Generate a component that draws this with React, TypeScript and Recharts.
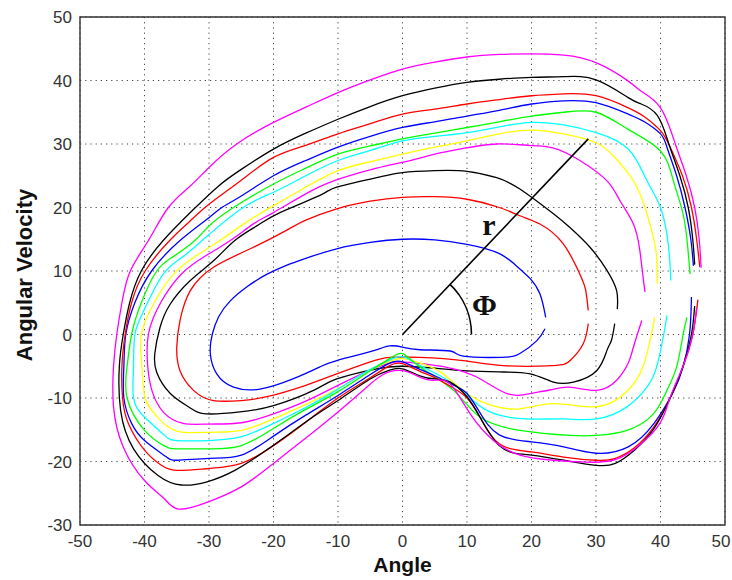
import { LineChart, Line, XAxis, YAxis, CartesianGrid, ReferenceArea, ReferenceDot, Label } from 'recharts';

type Pt = [number, number];

const xTicks = [-50, -40, -30, -20, -10, 0, 10, 20, 30, 40, 50];
const yTicks = [-30, -20, -10, 0, 10, 20, 30, 40, 50];

// contours, inner to outer; each runs from the upper-right end, over the top,
// round the left side and along the bottom to the lower-right end
const blueInner: Pt[] = [
  [22.2, 2.7], [21.3, 6.4], [19.8, 8.8], [18.2, 10.3], [15.1, 12.7], [10, 14.2], [5, 14.9], [0, 15],
  [-5, 14.5], [-10.2, 13.5], [-15, 12], [-18, 10.9], [-21, 9.5], [-24, 7.6], [-26.7, 5.3], [-28.5, 2.8],
  [-29.5, 0], [-29.8, -3], [-28.8, -6.2], [-26.2, -8.3], [-22.1, -8.6], [-17, -7], [-12.8, -5.1],
  [-10.2, -4.1], [-5, -2.7], [-2, -1.8], [0, -2], [2.7, -2.4], [7.4, -2.6], [9.4, -3.4], [15.3, -3.6],
  [18.2, -3], [20.8, -1], [22.1, 0.9],
];

const redInner: Pt[] = [
  [28.8, 3.8], [28.4, 7], [27.5, 9.5], [24.9, 14.3], [21.3, 17.4], [18.2, 18.7], [15, 20], [10, 21.3],
  [5, 21.7], [0, 21.6], [-5, 21], [-10.2, 19.8], [-15, 18], [-18, 16.4], [-23.6, 13.5], [-29.3, 10.6],
  [-32.9, 6.9], [-34.5, 2.2], [-35, -2], [-34.5, -5.7], [-32.4, -8.8], [-29.3, -10.4], [-25, -10.4],
  [-21, -9.8], [-15, -8], [-10.2, -6.2], [-5, -4.3], [-2, -3.6], [2.7, -3.6], [9.4, -4.1], [15.6, -4.9],
  [23.3, -4.9], [26, -4.1], [28, -1.5], [28.8, 1.7],
];

const blackInner: Pt[] = [
  [33.3, 4.0], [33.2, 6.9], [31.7, 10.1], [29.1, 13.7], [26, 16.8], [23.4, 19], [18.2, 22.9], [14.6, 24.7],
  [10, 25.7], [5, 25.8], [0, 25.5], [-4, 24.7], [-10.2, 23.2], [-12.8, 21.9], [-19, 19.2], [-22.6, 17.1],
  [-26, 14.8], [-29.3, 11.6], [-32.9, 8.5], [-36, 4.8], [-37.6, 1.1], [-38.4, -3], [-38.1, -6], [-36, -9.3],
  [-33, -11.5], [-30.4, -12.5], [-25.2, -12.2], [-20, -11.2], [-13.8, -8.8], [-10.2, -7], [-4, -5.4],
  [0, -5.0], [5, -5.3], [9.4, -5.7], [15, -5.9], [19.8, -6.2], [23.4, -7.5], [26.5, -7.5], [30.1, -5.7],
  [31.7, -2.5], [32.4, -0.9], [32.9, 1.7],
];

const magentaInner: Pt[] = [
  [37.6, 6.7], [37.3, 9], [36.8, 13.2], [35.8, 17.4], [33.7, 21.1], [31.7, 24.2], [27.5, 27.4], [23.3, 29.4],
  [19.3, 29.8], [14.6, 30], [9.4, 29.3], [5, 28.4], [1.2, 27.4], [-4, 26.2], [-9.2, 24.7], [-14, 22.7],
  [-20, 19.2], [-23, 17.5], [-26.7, 14.8], [-30.5, 12.4], [-34.2, 9.6], [-37.5, 5], [-39.4, 0], [-39.5, -5],
  [-38.8, -9], [-37, -12.3], [-34, -14], [-30, -14.1], [-25, -13.9], [-20, -12.5], [-15, -10.5], [-10, -8],
  [-5, -5.6], [-2, -4.5], [0, -4.3], [3, -4.6], [7, -5.2], [11.5, -6.7], [16.2, -9.3], [19.8, -9.3],
  [23, -8.7], [26, -8.3], [30.1, -8.8], [33.2, -7.2], [35, -4.5], [35.8, -2], [37.1, 2.2],
];

const yellowMid: Pt[] = [
  [39.5, 8], [39.4, 12.2], [38.9, 15.3], [37.6, 20], [35.8, 24.2], [33, 27.8], [30, 30.2], [25, 31.6],
  [20, 32.2], [15, 31.6], [10, 30.5], [5, 29.5], [0, 28.4], [-5, 27.2], [-10, 25.8], [-15, 23.2],
  [-20, 20.3], [-24.5, 17.5], [-28.3, 14.8], [-32, 12.4], [-35.5, 9.5], [-38.5, 5], [-40.5, 0], [-40.4, -5],
  [-39.9, -10], [-38, -13], [-35, -15.2], [-30, -15.4], [-25, -15.1], [-20, -13.3], [-15, -11], [-10, -8.5],
  [-5, -5.6], [-2, -4.2], [0, -3.8], [3, -4.6], [6, -6], [9, -8.5], [13, -10.9], [18.2, -11.7],
  [23.4, -10.9], [29.6, -11.4], [33.7, -9.9], [36.8, -6.2], [38.4, -0.9], [39.1, 2.7],
];

const cyanMid: Pt[] = [
  [41.6, 8.5], [41.2, 14.3], [40, 20], [37.9, 24.2], [35, 29.2], [30, 31.8], [25, 33], [20, 33.4],
  [15, 32.7], [10, 31.8], [5, 31.2], [0, 30.5], [-5, 29], [-10, 27.4], [-15, 25], [-20, 22.4],
  [-24.7, 20], [-30.5, 15.3], [-34, 12.3], [-37.1, 9.5], [-40, 4], [-41.5, 0], [-41.7, -5], [-41.7, -10],
  [-40, -13], [-37, -15.8], [-35, -16.7], [-30, -16.7], [-25, -16.1], [-20, -14], [-15, -11.5],
  [-10, -8.6], [-5, -5.5], [-2, -4], [0, -3.5], [2.7, -4.9], [7.9, -7.8], [13, -11.9], [19.3, -13.3],
  [25, -13.3], [30.1, -13.3], [34.8, -11.4], [37.9, -8.3], [39.4, -5.1], [40.5, 0], [41, 3],
];

const greenMid: Pt[] = [
  [44.6, 9.5], [44.2, 14], [43.5, 19], [42, 24.2], [40, 28.9], [35, 32.3], [30, 35], [25, 35],
  [20, 34.4], [15, 33.5], [10, 32.6], [5, 31.7], [0, 30.8], [-5, 29.7], [-10, 28.4], [-15, 26.2],
  [-20, 23.7], [-26.2, 20], [-30, 17.1], [-32.2, 14.8], [-35.5, 12.3], [-38.1, 10], [-40.5, 5], [-42, 0],
  [-42.7, -5], [-42.7, -10], [-40, -15.1], [-37, -17.5], [-35, -18], [-30, -18], [-25, -17.5],
  [-20, -14.8], [-15, -11.8], [-10, -9], [-5, -5.7], [-2, -3.8], [0, -3.0], [2.7, -5.1], [7.9, -8.8],
  [12, -13], [18.2, -15.1], [26, -15.9], [30.1, -15.9], [34.8, -15.1], [38.9, -12.5], [41, -8.8],
  [42.5, -5.1], [43.5, 0], [44.1, 2.7],
];

const blueOuter: Pt[] = [
  [45.1, 10.8], [44.7, 15], [43.8, 20], [42.5, 25], [41, 29.5], [40, 31.6], [37.5, 33.5], [35, 34.7],
  [30, 36.5], [25, 36.8], [20, 36.3], [15, 35.3], [10, 34.4], [5, 33.5], [0, 32.6], [-5, 31.2],
  [-10, 29.5], [-15, 27.4], [-20, 25], [-25, 21.8], [-28, 20], [-30, 18.4], [-34.5, 14.8], [-38.9, 10],
  [-41.5, 5], [-42.9, 0], [-43.2, -5], [-43.2, -10], [-42, -14], [-40, -16.7], [-37, -19], [-35, -19.8],
  [-30, -19.5], [-25, -19], [-20, -16], [-15, -12.7], [-10, -9.6], [-5, -6.3], [-2, -4.5], [0, -4.3],
  [2.7, -5.5], [5, -6.5], [8, -8], [10, -9.3], [12, -12.3], [15, -15.8], [20, -16.9], [25, -17.7],
  [30, -18.7], [35, -17.7], [39, -14], [42, -9], [43.5, -5.1], [44.5, 0], [44.8, 5.9],
];

const redOuter: Pt[] = [
  [46.1, 10.6], [45.6, 15], [44.8, 20], [43.4, 25], [41.5, 29.5], [40, 32.1], [37.5, 34.3], [35, 35.7],
  [30, 37.6], [25, 37.9], [20, 37.6], [15, 37], [10, 36.3], [5, 35.5], [0, 34.7], [-5, 33.2],
  [-10, 31.6], [-15, 29.8], [-20, 27.9], [-25, 24.3], [-30, 20.5], [-33, 17.8], [-36.1, 14.8], [-39.9, 10],
  [-42, 5], [-43, 0], [-43.5, -5], [-43.4, -10], [-42.5, -14], [-40, -18.2], [-37.5, -20.5], [-35, -21.4],
  [-30, -21.1], [-25, -20.3], [-20, -17.5], [-15, -13.8], [-10, -10], [-5, -6.8], [-2, -4.9], [0, -4.6],
  [2.7, -5.8], [5, -6.8], [8, -8.5], [10, -10], [12, -13], [15, -17.2], [20, -18.5], [25, -19.3],
  [30, -19.8], [33, -19.5], [36, -17.8], [39, -14.5], [41.5, -10], [43.5, -5], [45, 0], [45.8, 5.5],
];

const blackOuter: Pt[] = [
  [45.3, 11], [45, 15], [44.3, 20], [43, 25], [41.3, 30], [39.5, 34.5], [37, 36.3], [35, 37.3],
  [30, 40.1], [25, 40.6], [20, 40.5], [15, 40.2], [10, 39.7], [5, 38.8], [0, 37.6], [-5, 35.9],
  [-10, 33.9], [-15, 31.7], [-20, 29.2], [-25, 26], [-28.5, 23.4], [-32.5, 19.6], [-37.1, 14.8], [-40.5, 10],
  [-42.3, 5], [-43.3, 0], [-43.9, -5], [-43.7, -12], [-41.7, -18], [-37.9, -22.2], [-34.3, -23.7],
  [-30.3, -23.2], [-26, -21.4], [-20.8, -18], [-13.9, -13], [-10, -10.4], [-5, -7], [-2, -5.6], [0, -5.4],
  [2.7, -6.5], [5, -7], [7.4, -7.5], [10, -9.8], [12, -13], [15, -17.5], [18, -18.8], [20, -19],
  [25, -19.8], [30, -20.6], [33, -20.3], [36, -18.2], [39, -14.8], [41.5, -10], [43.5, -5], [44.8, 0],
  [45.3, 4.5],
];

const magentaOuter: Pt[] = [
  [46.3, 10.5], [46, 15], [45.3, 20], [44, 25], [42.3, 30], [40, 35.7], [37, 38.3], [35, 39.9],
  [30, 42.8], [25, 44], [20, 44.2], [15, 44.1], [10, 43.7], [5, 42.9], [0, 41.8], [-5, 40.1],
  [-10, 38.1], [-15, 35.8], [-20, 33.4], [-25.7, 30], [-30, 26.3], [-33, 23.3], [-36.3, 20], [-39.4, 14.8],
  [-42.2, 10], [-43.5, 5], [-44.3, 0], [-44.8, -5], [-44.8, -11.4], [-43.3, -17.7], [-40, -23],
  [-37, -25.8], [-34.7, -27.5], [-30.2, -26.4], [-25, -24], [-20, -20.3], [-14, -15.5], [-10, -12.2],
  [-6, -8.7], [-3, -6.3], [0, -5.7], [2.7, -6.7], [5, -7.2], [7.4, -7.8], [10.5, -12.5], [14.1, -16.7],
  [18.2, -19], [23.4, -19.8], [28.6, -20.1], [32.7, -19.8], [36.4, -17.7], [39.9, -14], [41.5, -9.9],
  [43.5, -5], [45, 0], [45.6, 4.2],
];

// the radius annotation r, from the origin to the fourth contour
const radiusLine: Pt[] = [[0, 0], [28.8, 30.8]];

const curves: { id: string; color: string; pts: Pt[] }[] = [
  { id: 'c1', color: '#0000ff', pts: blueInner },
  { id: 'c2', color: '#ff0000', pts: redInner },
  { id: 'c3', color: '#000000', pts: blackInner },
  { id: 'c4', color: '#ff00ff', pts: magentaInner },
  { id: 'c5', color: '#ffff00', pts: yellowMid },
  { id: 'c6', color: '#00ffff', pts: cyanMid },
  { id: 'c7', color: '#00ff00', pts: greenMid },
  { id: 'c8', color: '#0000ff', pts: blueOuter },
  { id: 'c9', color: '#ff0000', pts: redOuter },
  { id: 'c10', color: '#000000', pts: blackOuter },
  { id: 'c11', color: '#ff00ff', pts: magentaOuter },
];

const toRows = (pts: Pt[]) => pts.map(([x, y]) => ({ x, y }));

const sans = '"Liberation Sans", Arial, sans-serif';
const serif = '"Liberation Serif", "Times New Roman", serif';
const tickStyle = { fontSize: 17, fill: '#333', fontFamily: sans };

// last x label sits on the page edge, nudge it in a little
const XTick = ({ x, y, payload }: any) => (
  <text x={payload.value === 50 ? x - 4 : x} y={y + 14} textAnchor="middle"
    fontSize={17} fill="#333" fontFamily={sans}>{payload.value}</text>
);

const XLabel = ({ viewBox }: any) => (
  <text x={viewBox.x + viewBox.width / 2} y={viewBox.y + viewBox.height - 8} textAnchor="middle"
    fontFamily={sans} fontWeight="bold" fontSize={21} fill="#111">Angle</text>
);

const YLabel = ({ viewBox }: any) => {
  const cx = viewBox.x + 32;
  const cy = viewBox.y + viewBox.height / 2 + 4;
  return (
    <text x={cx} y={cy} textAnchor="middle" transform={`rotate(-90, ${cx}, ${cy})`}
      fontFamily={sans} fontWeight="bold" fontSize={22} fill="#111">Angular Velocity</text>
  );
};

// arc marking the angle between the x axis and r
const PhiArc = ({ cx, cy }: any) => {
  const r = 69;
  const a = (46.5 * Math.PI) / 180;
  return (
    <path d={`M ${cx + r} ${cy} A ${r} ${r} 0 0 0 ${cx + r * Math.cos(a)} ${cy - r * Math.sin(a)}`}
      fill="none" stroke="#000" strokeWidth={1.6} />
  );
};

const glyph = (ch: string) => ({ cx, cy }: any) => (
  <text x={cx} y={cy} textAnchor="middle" dominantBaseline="central"
    fontFamily={serif} fontWeight="bold" fontSize={30} fill="#111">{ch}</text>
);

export default function App() {
  return (
    <div style={{ position: 'absolute', left: 0, top: 0, background: '#fff' }}>
      <LineChart width={732} height={580} margin={{ top: 17, right: 7, bottom: 0, left: 0 }}>
        <CartesianGrid stroke="#444" strokeDasharray="1.2 4" />
        <XAxis type="number" dataKey="x" domain={[-50, 50]} ticks={xTicks} allowDataOverflow
          height={55} axisLine={false} tickLine={false} tick={XTick} interval={0}>
          <Label content={XLabel} />
        </XAxis>
        <YAxis type="number" dataKey="y" domain={[-30, 50]} ticks={yTicks} allowDataOverflow
          width={80} axisLine={false} tickLine={false} tick={tickStyle} interval={0}>
          <Label content={YLabel} />
        </YAxis>
        <ReferenceArea x1={-50} x2={50} y1={-30} y2={50} fill="none" stroke="#333" strokeWidth={1.4} />
        {curves.map((c) => (
          <Line key={c.id} data={toRows(c.pts)} dataKey="y" type="natural" stroke={c.color}
            strokeWidth={1.3} dot={false} isAnimationActive={false} />
        ))}
        <Line data={toRows(radiusLine)} dataKey="y" type="linear" stroke="#000" strokeWidth={1.6}
          dot={false} isAnimationActive={false} />
        <ReferenceDot x={0} y={0} r={0} shape={PhiArc} />
        <ReferenceDot x={13.4} y={17.3} r={0} shape={glyph('r')} />
        <ReferenceDot x={12.7} y={4.7} r={0} shape={glyph('Φ')} />
      </LineChart>
    </div>
  );
}
